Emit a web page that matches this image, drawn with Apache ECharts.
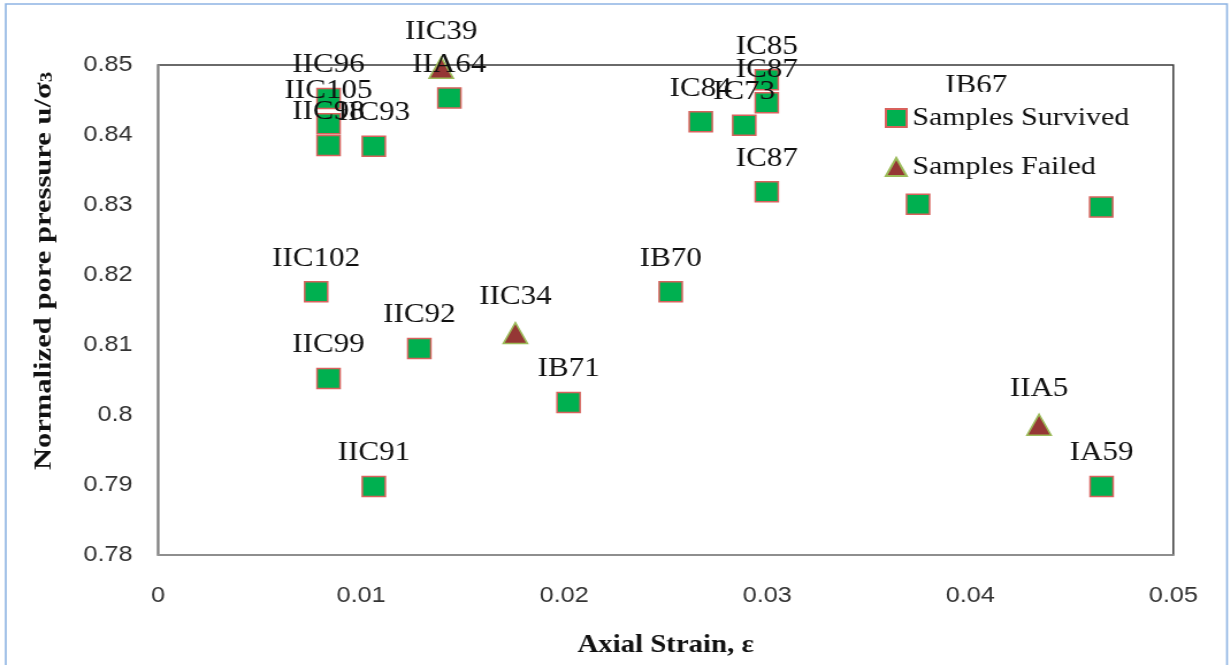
<!DOCTYPE html>
<html>
<head>
<meta charset="utf-8">
<title>Normalized pore pressure vs axial strain</title>
<script src="https://cdn.jsdelivr.net/npm/echarts@6/dist/echarts.min.js"></script>
<style>
  html, body { margin: 0; padding: 0; background: #fff; overflow: hidden; }
  /* the chart is laid out on a narrower canvas and widened to fill the page */
  #chart { width: 1070px; height: 665px; transform: scaleX(1.1505); transform-origin: 0 0; }
</style>
</head>
<body>
<div id="chart"></div>
<script>
// Samples that survived the test
const survivedNames = ['IIC96', 'IIC105', 'IIC98', 'IIC93', 'IIA64', 'IIC102', 'IIC99', 'IIC92', 'IB71', 'IIC91',
                       'IB70', 'IC84', 'IC73', 'IC85', 'IC87', 'IC87', 'IB67', '', '', 'IA59'];
const survivedStrain = [0.0084, 0.0084, 0.0084, 0.01063, 0.01435, 0.00779, 0.0084, 0.01287, 0.02022, 0.01063,
                        0.02525, 0.02673, 0.02887, 0.02998, 0.02998, 0.02998, 0.0403, 0.03743, 0.04645, 0.04647];
const survivedPore = [0.8452, 0.8416, 0.8385, 0.8384, 0.8453, 0.8176, 0.8052, 0.8095, 0.8018, 0.7898,
                      0.8176, 0.8419, 0.8414, 0.8479, 0.8446, 0.8319, 0.8423, 0.8301, 0.8297, 0.7898];

// Samples that failed
const failedNames = ['IIC39', 'IIC34', 'IIA5'];
const failedStrain = [0.01395, 0.0176, 0.04339];
const failedPore = [0.8496, 0.8117, 0.7986];

// Axis tick labels
const xTickLabels = ['0', '0.01', '0.02', '0.03', '0.04', '0.05'];
const yTickLabels = ['0.78', '0.79', '0.8', '0.81', '0.82', '0.83', '0.84', '0.85'];

function toPoints(names, xs, ys) {
  return names.map((n, i) => ({ name: n, value: [xs[i], ys[i]] }));
}

const serif = 'Liberation Serif, Times New Roman, serif';
const sans = 'Liberation Sans, Arial, sans-serif';

const chart = echarts.init(document.getElementById('chart'), null, { renderer: 'canvas' });

chart.setOption({
  animation: false,
  backgroundColor: '#fff',
  grid: {
    left: 137.3, top: 65, width: 882.5, height: 490,
    show: true, borderColor: '#3a3a3a', borderWidth: 1.5, backgroundColor: 'transparent'
  },
  xAxis: {
    type: 'value', min: 0, max: 0.05, interval: 0.01,
    name: 'Axial Strain, ε', nameLocation: 'middle', nameGap: 78,
    nameTextStyle: { fontFamily: serif, fontWeight: 'bold', fontSize: 25, color: '#111' },
    axisLine: { show: true, lineStyle: { color: '#9a9a9a', width: 1.5 } },
    axisTick: { show: false },
    splitLine: { show: false },
    axisLabel: {
      margin: 30, fontFamily: sans, fontSize: 22, color: '#333',
      formatter: v => xTickLabels[Math.round(v / 0.01)]
    }
  },
  yAxis: {
    type: 'value', min: 0.78, max: 0.85, interval: 0.01,
    axisLine: { show: true, lineStyle: { color: '#9a9a9a', width: 1.5 } },
    axisTick: { show: false },
    splitLine: { show: false },
    axisLabel: {
      margin: 22, fontFamily: sans, fontSize: 22, color: '#333',
      formatter: v => yTickLabels[Math.round((v - 0.78) / 0.01)]
    }
  },
  legend: {
    orient: 'vertical', left: 761, top: 92,
    padding: [13, 12, 6, 8],
    itemWidth: 18, itemHeight: 18, itemGap: 23,
    backgroundColor: '#fff',
    textStyle: { fontFamily: serif, fontSize: 26, color: '#111' },
    data: ['Samples Survived', 'Samples Failed']
  },
  graphic: [
    {
      type: 'rect', z: 0, silent: true,
      shape: { x: 5, y: 4, width: 1061.5, height: 700 },
      style: { fill: 'none', stroke: '#8EB4E3', lineWidth: 1.6 }
    },
    {
      type: 'text', x: 38, y: 271, rotation: Math.PI / 2, scaleX: 1.39,
      style: {
        text: '{a|Normalized pore pressure u/σ}{b|3}',
        align: 'center', verticalAlign: 'middle',
        rich: {
          a: { fontFamily: serif, fontWeight: 'bold', fontSize: 22, fill: '#111' },
          b: { fontFamily: serif, fontWeight: 'bold', fontSize: 15, fill: '#111', verticalAlign: 'bottom' }
        }
      }
    }
  ],
  series: [
    {
      name: 'Samples Survived', type: 'scatter', clip: false,
      symbol: 'rect', symbolSize: 20,
      itemStyle: { color: '#00B050', borderColor: '#D8615C', borderWidth: 1.5, opacity: 1 },
      label: {
        show: true, position: 'top', distance: 9,
        fontFamily: serif, fontSize: 27, color: '#111',
        formatter: p => p.name
      },
      data: toPoints(survivedNames, survivedStrain, survivedPore)
    },
    {
      name: 'Samples Failed', type: 'scatter', clip: false,
      symbol: 'triangle', symbolSize: [21, 21],
      itemStyle: { color: '#953735', borderColor: '#9BBB59', borderWidth: 1.5, opacity: 1 },
      label: {
        show: true, position: 'top', distance: 11,
        fontFamily: serif, fontSize: 27, color: '#111',
        formatter: p => p.name
      },
      data: toPoints(failedNames, failedStrain, failedPore)
    }
  ]
});
</script>
</body>
</html>
